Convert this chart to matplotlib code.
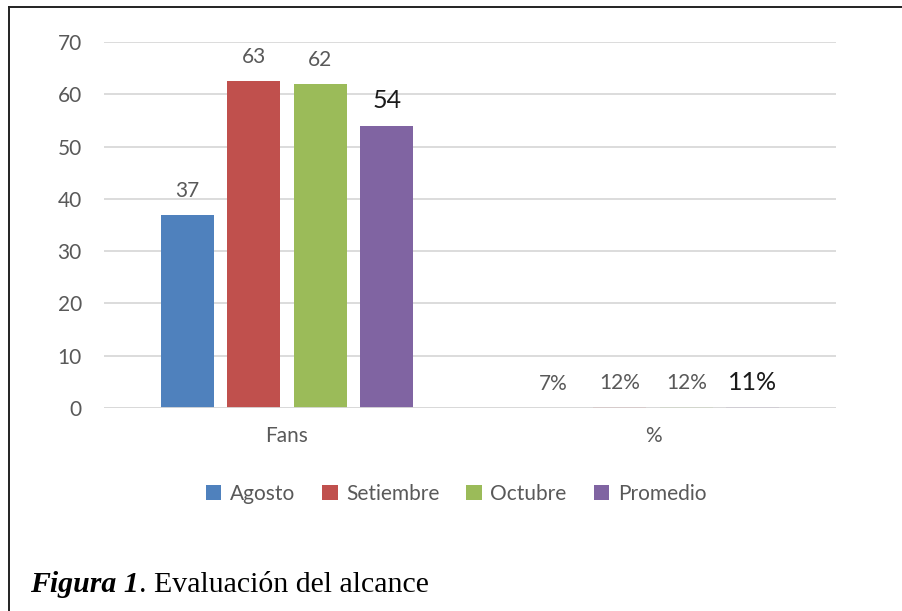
import numpy as np
import matplotlib
matplotlib.use("Agg")
import matplotlib.pyplot as plt
from matplotlib.lines import Line2D

categories = ["Fans", "%"]
series_names = ["Agosto", "Setiembre", "Octubre", "Promedio"]
agosto = [37, 0.07]
setiembre = [62.6, 0.12]
octubre = [62, 0.12]
promedio = [54, 0.11]
y_ticks = [0, 10, 20, 30, 40, 50, 60, 70]
caption_bold = "Figura 1"
caption_rest = ". Evaluación del alcance"

colors = ["#4F81BD", "#C0504D", "#9BBB59", "#8064A2"]
gray = "#595959"
plt.rcParams["font.family"] = ["Lato", "DejaVu Sans"]

fig = plt.figure(figsize=(9.02, 6.11), dpi=100)
ax = fig.add_axes([104 / 902, 203 / 611, 732 / 902, 366 / 611])

x = np.arange(len(categories)) + 0.5
step = 66.5 / 366
width = 53 / 366
all_series = [agosto, setiembre, octubre, promedio]

for i, (name, vals) in enumerate(zip(series_names, all_series)):
    offset = (i - 1.5) * step
    bars = ax.bar(x + offset, vals, width, color=colors[i], label=name,
                  linewidth=0, zorder=3)
    labels = [f"{vals[0]:.0f}", f"{vals[1]:.0%}"]
    if name == "Promedio":
        ax.bar_label(bars, labels=labels, padding=10, fontsize=18, color="#1a1a1a")
    else:
        ax.bar_label(bars, labels=labels, padding=10, fontsize=15, color=gray)

ax.set_xlim(0, 2)
ax.set_ylim(0, 70)
ax.set_yticks(y_ticks)
ax.set_xticks(x, categories)
ax.tick_params(axis="y", length=0, pad=16, labelsize=15, labelcolor=gray)
ax.tick_params(axis="x", length=0, pad=13, labelsize=15, labelcolor=gray)
ax.grid(axis="y", color="#D9D9D9", linewidth=1.3, zorder=0)
# base line drawn over the bars, the % bars are too small to show
ax.axhline(0, color="#D9D9D9", linewidth=1.3, zorder=4)
for s in ax.spines.values():
    s.set_visible(False)

fig.legend(loc="center", bbox_to_anchor=(456 / 902, 1 - 494 / 611), ncol=4,
           frameon=False, fontsize=15, labelcolor=gray, handlelength=0.75,
           handleheight=0.75, handletextpad=0.4, columnspacing=1.3)

# frame lines (top and left)
fig.add_artist(Line2D([9 / 902, 9 / 902], [0, 1 - 7 / 611], color="#222222",
                      linewidth=1.4, transform=fig.transFigure))
fig.add_artist(Line2D([9 / 902, 1], [1 - 7 / 611, 1 - 7 / 611], color="#222222",
                      linewidth=1.4, transform=fig.transFigure))

# caption
t1 = fig.text(30 / 902, 1 - 585 / 611, caption_bold, family="Liberation Serif",
              fontsize=21.5, fontweight="bold", fontstyle="italic", va="center")
renderer = fig.canvas.get_renderer()
bb = t1.get_window_extent(renderer)
fig.text(bb.x1 / fig.bbox.width, 1 - 585 / 611, caption_rest, family="Liberation Serif",
         fontsize=21.5, va="center")

fig.savefig("out.png", dpi=100)
